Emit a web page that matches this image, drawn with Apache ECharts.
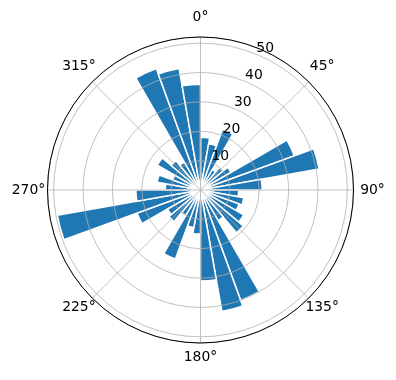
<!DOCTYPE html>
<html>
<head>
<meta charset="utf-8">
<script src="https://cdn.jsdelivr.net/npm/echarts@6/dist/echarts.min.js"></script>
<style>
html,body{margin:0;padding:0;background:#fff;}
#chart{width:396px;height:380px;}
</style>
</head>
<body>
<div id="chart"></div>
<script>
// Sector centres (degrees, clockwise from north)
const sectorCenters = [5,15,25,35,45,55,65,75,85,95,105,115,125,135,145,155,165,175,
                       185,195,205,215,225,235,245,255,265,275,285,295,305,315,325,335,345,355];
// Bar lengths
const barValues = [18,16,22,8,10,12,34,41,21,13,15,14,17,19,12,40,42,31,
                   15,13,25,10,14,13,23,49.5,22,12,15,10,17,13,11,44,42,36];
// Tick labels
const angleTicks = [0,45,90,135,180,225,270,315];
const angleTickLabels = ['0°','45°','90°','135°','180°','225°','270°','315°'];
const radialTicks = [10,20,30,40,50];
const radialTickLabels = ['10','20','30','40','50'];
const RMAX = 52.1;

const FONT = 'DejaVu Sans';
const FS = 13.9;
const CX = 200.5, CY = 190, R = 153;
const LABEL_DX = 172, LABEL_DY = 170, LABEL_LIFT = 3; // placement of angle-label centres
const BASE_MARGIN = -8;

// measure text to centre the angle labels like matplotlib does
const ctx = document.createElement('canvas').getContext('2d');
ctx.font = FS + 'px "' + FONT + '"';
const TH = 14;
const angleRich = {};
angleTicks.forEach((deg, i) => {
  const t = deg * Math.PI / 180, s = Math.sin(t), c = Math.cos(t);
  const w = ctx.measureText(angleTickLabels[i]).width;
  const a = R + BASE_MARGIN;
  const ax = s * a, ay = -c * a;                              // anchor offset
  const hAlign = Math.abs(ax) / R < 0.3 ? 'center' : (ax > 0 ? 'left' : 'right');
  const vAlign = Math.abs(ay) / R < 0.3 ? 'middle' : (ay > 0 ? 'top' : 'bottom');
  const tx = s * LABEL_DX, ty = -c * LABEL_DY - (vAlign === 'middle' ? 0 : LABEL_LIFT);
  let pt = 0, pr = 0, pb = 0, pl = 0;
  if (hAlign === 'left') pl = tx - ax - w / 2;
  else if (hAlign === 'right') pr = ax - tx - w / 2;
  if (vAlign === 'bottom') pb = ay - ty - TH / 2;
  else if (vAlign === 'top') pt = ty - ay - TH / 2;
  angleRich['a' + i] = {padding:[Math.max(0,pt), Math.max(0,pr), Math.max(0,pb), Math.max(0,pl)],
                        fontSize:FS, fontFamily:FONT, color:'#000'};
});

const chart = echarts.init(document.getElementById('chart'), null, {renderer:'canvas'});
const option = {
  animation: false,
  backgroundColor: '#ffffff',
  polar: [
    {center:[CX, CY], radius:[0, R]},
    {center:[CX, CY], radius:[0, R]},
    {center:[CX, CY], radius:[0, R]}
  ],
  angleAxis: [
    {polarIndex:0, type:'category', data:sectorCenters.map(String), startAngle:90, clockwise:true,
     boundaryGap:true, axisLine:{show:false}, axisTick:{show:false}, axisLabel:{show:false}, splitLine:{show:false}},
    {polarIndex:1, type:'value', min:0, max:360, interval:45, startAngle:90, clockwise:true, z:10,
     axisLine:{show:true, lineStyle:{color:'#000', width:1}},
     axisTick:{show:false},
     axisLabel:{show:true, margin:BASE_MARGIN, color:'#000', fontSize:FS, fontFamily:FONT, rich:angleRich,
       formatter: v => { const i = angleTicks.indexOf(Math.round(v)); return i >= 0 ? '{a' + i + '|' + angleTickLabels[i] + '}' : ''; }},
     splitLine:{show:true, lineStyle:{color:'#b0b0b0', width:0.8}}},
    {polarIndex:2, type:'value', min:0, max:360, startAngle:67.5, clockwise:true, show:false}
  ],
  radiusAxis: [
    {polarIndex:0, type:'value', min:0, max:RMAX, show:false},
    {polarIndex:1, type:'value', min:0, max:RMAX, interval:10, z:10,
     axisLine:{show:false}, axisTick:{show:false}, axisLabel:{show:false},
     splitLine:{show:true, lineStyle:{color:'#b0b0b0', width:0.8}}},
    {polarIndex:2, type:'value', min:0, max:RMAX, interval:10, z:11,
     axisLine:{show:false}, axisTick:{show:false}, splitLine:{show:false},
     axisLabel:{show:true, margin:0, align:'center', verticalAlign:'middle',
       color:'#000', fontSize:FS, fontFamily:FONT,
       rich:{r:{padding:[0,0,12,17], fontSize:FS, fontFamily:FONT, color:'#000'}},
       formatter: v => { const i = radialTicks.indexOf(Math.round(v*1000)/1000); return i >= 0 ? '{r|' + radialTickLabels[i] + '}' : ''; }}}
  ],
  series: [{
    type:'bar', coordinateSystem:'polar', polarIndex:0,
    data: barValues, barCategoryGap:'0%', barGap:'0%',
    itemStyle:{color:'#1f77b4', borderColor:'#ffffff', borderWidth:1.5}
  }]
};
chart.setOption(option);
</script>
</body>
</html>
